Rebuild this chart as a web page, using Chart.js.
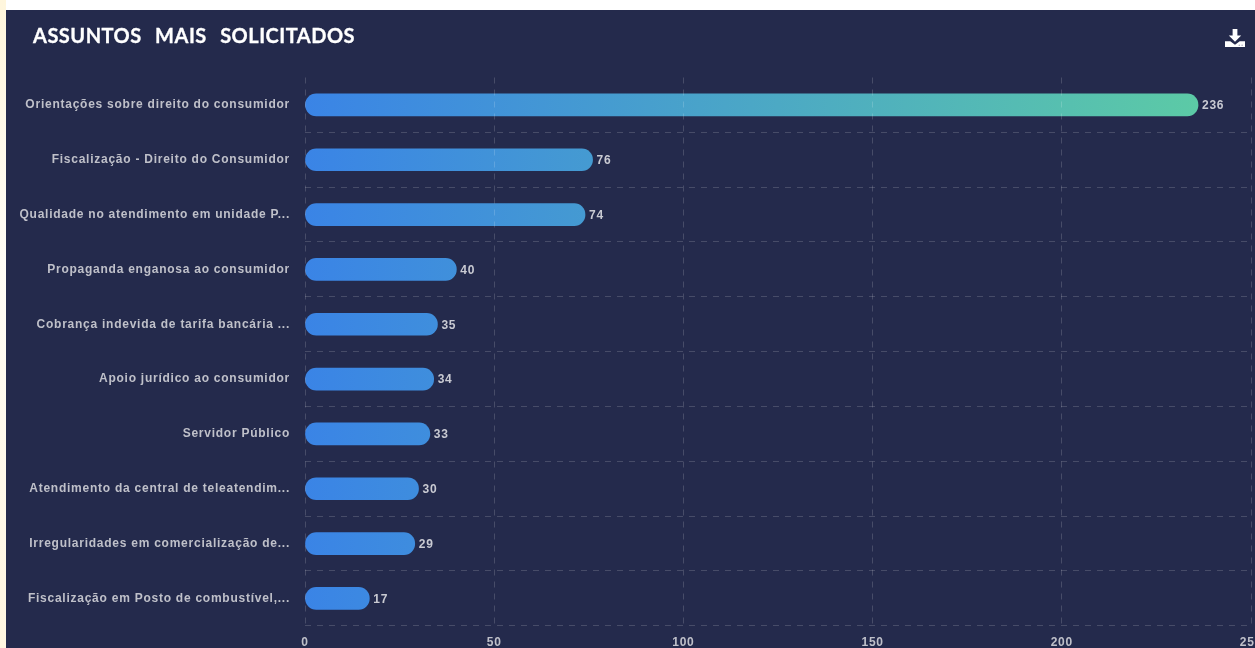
<!DOCTYPE html>
<html lang="pt">
<head>
<meta charset="utf-8">
<title>Assuntos mais solicitados</title>
<script src="https://cdn.jsdelivr.net/npm/chart.js@4"></script>
<style>
  html, body { margin: 0; height: 100%; overflow: hidden; background: #fff; }
  body { position: relative; width: 1255px; height: 648px;
    background: linear-gradient(180deg, #fff6dc 0, #fffdf6 40%, #fff6e0 100%) left top / 6px 100% no-repeat, #fff; }
  #panel { position: absolute; left: 6px; top: 10px; width: 1249px; height: 638px; background: #242a4c; overflow: hidden; }
  #title { position: absolute; left: 27px; top: 12.500px; margin: 0; color: #fff; white-space: nowrap;
    font: 700 20px Lato, sans-serif; letter-spacing: 0.5px; word-spacing: 8px; -webkit-text-stroke: 0.3px #fff; }
  #download { position: absolute; left: 1219px; top: 18px; width: 20px; height: 20px; }
  canvas { position: absolute; left: 0; top: 0; }
</style>
</head>
<body>
<div id="panel">
  <canvas id="assuntosChart" width="1289" height="638" style="width:1289px;height:638px"></canvas>
  <h1 id="title">ASSUNTOS MAIS SOLICITADOS</h1>
  <svg id="download" viewBox="0 0 21 21">
    <path fill="#fff" d="M8 1h5v7h4l-6.500 6.500L4 8h4z"/>
    <path fill="#fff" d="M0 14h5.500l5 3.500 5-3.500H21v6H0z"/>
    <circle cx="15" cy="18" r="0.8" fill="#aab"/><circle cx="18" cy="18" r="0.8" fill="#aab"/>
  </svg>
</div>
<script>
const categories = [
  'Orientações sobre direito do consumidor',
  'Fiscalização - Direito do Consumidor',
  'Qualidade no atendimento em unidade P...',
  'Propaganda enganosa ao consumidor',
  'Cobrança indevida de tarifa bancária ...',
  'Apoio jurídico ao consumidor',
  'Servidor Público',
  'Atendimento da central de teleatendim...',
  'Irregularidades em comercialização de...',
  'Fiscalização em Posto de combustível,...'
];
const solicitacoes = [236, 76, 74, 40, 35, 34, 33, 30, 29, 17];
const xMax = 250;
const xStep = 50;

const gridColor = 'rgba(255, 255, 255, 0.16)';
const labelColor = '#bfc0c9';
const labelFont = { family: '"Liberation Sans", Arial, sans-serif', size: 12, weight: 'bold' };

// same gradient for every bar, so the short ones stay blue
function barGradient(context) {
  const chart = context.chart;
  if (!chart.chartArea) return '#3a84e6';
  const x = chart.scales.x;
  const g = chart.ctx.createLinearGradient(x.getPixelForValue(0), 0, x.getPixelForValue(Math.max(...solicitacoes)), 0);
  g.addColorStop(0, '#3a84e6');
  g.addColorStop(1, '#5ccaa6');
  return g;
}

const spacedText = {
  id: 'spacedText',
  beforeDraw(chart) { chart.ctx.letterSpacing = '0.75px'; }
};

// value written at the end of each bar
const barValues = {
  id: 'barValues',
  afterDatasetsDraw(chart) {
    const ctx = chart.ctx;
    ctx.save();
    ctx.font = 'bold 12px "Liberation Sans", Arial, sans-serif';
    ctx.fillStyle = '#c9cad2';
    ctx.textAlign = 'left';
    ctx.textBaseline = 'middle';
    chart.getDatasetMeta(0).data.forEach(function (bar, i) {
      ctx.fillText(solicitacoes[i], bar.x + 4, bar.y + 1);
    });
    ctx.restore();
  }
};

new Chart(document.getElementById('assuntosChart').getContext('2d'), {
  type: 'bar',
  data: {
    labels: categories,
    datasets: [{
      data: solicitacoes,
      backgroundColor: barGradient,
      borderSkipped: false,
      borderRadius: 11,
      barThickness: 22
    }]
  },
  plugins: [spacedText, barValues],
  options: {
    indexAxis: 'y',
    responsive: false,
    animation: false,
    layout: { padding: { top: 67.5, right: 44, left: 0, bottom: 0 } },
    plugins: { legend: { display: false }, tooltip: { enabled: false } },
    scales: {
      x: {
        min: 0,
        max: xMax,
        afterFit(scale) { scale.height = 22; },
        border: { display: false, dash: [6, 6] },
        grid: { color: gridColor, z: 1, drawTicks: false },
        ticks: { stepSize: xStep, color: labelColor, font: labelFont, padding: 10, maxRotation: 0 }
      },
      y: {
        afterFit(scale) { scale.width = 299; },
        border: { display: false, dash: [6, 6] },
        grid: {
          color: function (c) { return c.index === 0 ? 'transparent' : gridColor; },
          drawTicks: false
        },
        ticks: { color: labelColor, font: labelFont, padding: 15, autoSkip: false }
      }
    }
  }
});
</script>
</body>
</html>
